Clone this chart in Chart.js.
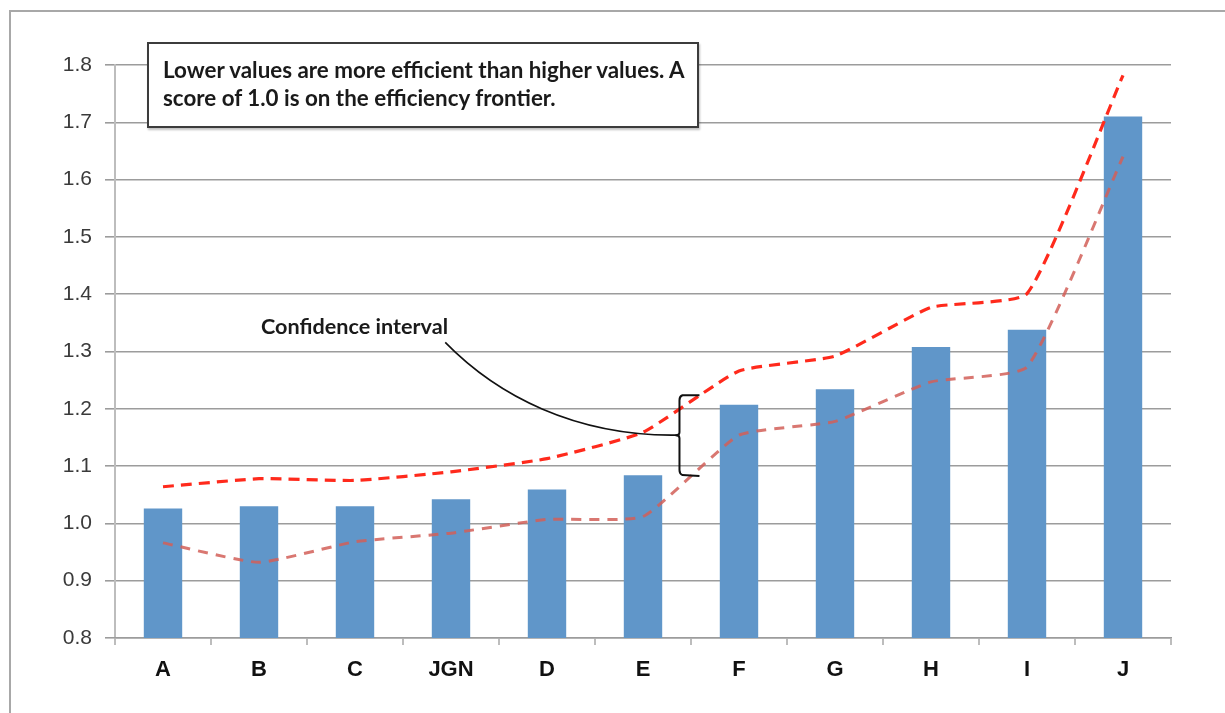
<!DOCTYPE html>
<html>
<head>
<meta charset="utf-8">
<script src="https://cdn.jsdelivr.net/npm/chart.js@4.4.1/dist/chart.umd.min.js"></script>
<style>
  html, body { margin: 0; padding: 0; background: #fff; overflow: hidden; }
  #wrap { position: relative; width: 1225px; height: 713px; }
  #frame { position: absolute; left: 9px; top: 10px; width: 1300px; height: 800px;
           border-top: 2px solid #a8a8a8; border-left: 2px solid #a8a8a8; box-sizing: border-box; }
  canvas { position: absolute; left: 0; top: 0; }
  #note { position: absolute; left: 147px; top: 42px; width: 552px; height: 86px; box-sizing: border-box;
          border: 2px solid #3c3c3c; background: #fff; box-shadow: 1px 2px 2px rgba(0,0,0,0.25);
          font-family: Lato, "Open Sans", sans-serif; font-weight: bold; color: #1a1a1a; }
  #note div { position: absolute; left: 14px; white-space: nowrap; }
  #ci { position: absolute; left: 261px; top: 313px; white-space: nowrap;
        font-family: Lato, "Open Sans", sans-serif; font-weight: bold; color: #1a1a1a; }
</style>
</head>
<body>
<div id="wrap">
  <div id="frame"></div>
  <canvas id="c" width="1225" height="713"></canvas>
  <div id="note">
    <div id="l1" style="top:12px">Lower values are more efficient than higher values. A</div>
    <div id="l2" style="top:40px">score of 1.0 is on the efficiency frontier.</div>
  </div>
  <div id="ci">Confidence interval</div>
</div>
<script>
const categories = ['A', 'B', 'C', 'JGN', 'D', 'E', 'F', 'G', 'H', 'I', 'J'];
const scores = [1.026, 1.030, 1.030, 1.042, 1.059, 1.084, 1.207, 1.234, 1.308, 1.338, 1.710];
const upperBound = [1.064, 1.078, 1.075, 1.090, 1.113, 1.159, 1.266, 1.292, 1.377, 1.401, 1.782];
const lowerBound = [0.966, 0.932, 0.968, 0.983, 1.007, 1.012, 1.154, 1.178, 1.247, 1.273, 1.640];
const yTicks = [0.8, 0.9, 1.0, 1.1, 1.2, 1.3, 1.4, 1.5, 1.6, 1.7, 1.8];

// fit annotation text widths
function fit(el, target, base) {
  el.style.fontSize = base + 'px';
  const w = el.getBoundingClientRect().width;
  el.style.fontSize = (base * target / w).toFixed(2) + 'px';
}
fit(document.getElementById('l1'), 522, 18);
document.getElementById('l2').style.fontSize = document.getElementById('l1').style.fontSize;
fit(document.getElementById('ci'), 187, 16);

const bracePlugin = {
  id: 'brace',
  afterDatasetsDraw(chart) {
    const ctx = chart.ctx, xs = chart.scales.x, ys = chart.scales.y;
    const x0 = xs.getPixelForValue(0), step = xs.getPixelForValue(1) - x0;
    const px = i => x0 + i * step;
    const py = v => ys.getPixelForValue(v);
    const bx = px(5.38);
    const top = py(1.222), mid = py(1.154), bot = py(1.086);
    ctx.save();
    ctx.strokeStyle = '#111';
    ctx.lineWidth = 1.6;
    ctx.beginPath();
    ctx.moveTo(px(2.94), py(1.316));
    ctx.bezierCurveTo(px(3.5), py(1.22), px(4.3), py(1.155), bx - 8, mid);
    ctx.lineTo(bx, mid);
    ctx.stroke();
    ctx.lineWidth = 2;
    ctx.beginPath();
    ctx.moveTo(bx + 20, top - 1);
    ctx.lineTo(bx + 3, top - 1);
    ctx.quadraticCurveTo(bx, top, bx, top + 4);
    ctx.lineTo(bx, mid - 3);
    ctx.quadraticCurveTo(bx, mid, bx - 4, mid);
    ctx.quadraticCurveTo(bx, mid, bx, mid + 3);
    ctx.lineTo(bx, bot - 4);
    ctx.quadraticCurveTo(bx, bot, bx + 3, bot + 1);
    ctx.lineTo(bx + 20, bot + 2);
    ctx.stroke();
    ctx.restore();
  }
};

new Chart(document.getElementById('c'), {
  type: 'bar',
  data: {
    labels: categories,
    datasets: [
      { type: 'line', label: 'Upper', data: upperBound, borderColor: '#ff2a1c', borderWidth: 3.2,
        borderDash: [11, 7], pointRadius: 0, tension: 0.15, fill: false, order: 0 },
      { type: 'line', label: 'Lower', data: lowerBound, borderColor: 'rgba(210,95,88,0.85)', borderWidth: 3,
        borderDash: [10, 8], pointRadius: 0, tension: 0.15, fill: false, order: 0 },
      { type: 'bar', label: 'Score', data: scores, backgroundColor: '#6096c9', borderWidth: 0,
        categoryPercentage: 1.0, barPercentage: 0.4, order: 1 }
    ]
  },
  options: {
    responsive: false,
    animation: false,
    events: [],
    layout: { padding: { top: 65, right: 54, left: 0, bottom: 0 } },
    plugins: { legend: { display: false }, tooltip: { enabled: false } },
    scales: {
      y: {
        min: 0.8, max: 1.8,
        afterFit: s => { s.width = 115; },
        afterBuildTicks: s => { s.ticks = yTicks.map(v => ({ value: v })); },
        ticks: { callback: v => Number(v).toFixed(1), color: '#3a3a3a', padding: 13,
                 font: { family: '"Liberation Sans", Arial, sans-serif', size: 21 } },
        grid: { color: '#9c9c9c', lineWidth: 1.6, tickLength: 10 },
        border: { display: true, color: '#bdbdbd', width: 2 }
      },
      x: {
        afterFit: s => { s.height = 75; },
        ticks: { color: '#111', padding: 12,
                 font: { family: '"Liberation Sans", Arial, sans-serif', size: 22, weight: 'bold' } },
        grid: { offset: true, drawOnChartArea: false, color: '#bdbdbd', lineWidth: 2, tickLength: 7 },
        border: { display: true, color: '#9c9c9c', width: 1.6 }
      }
    }
  },
  plugins: [bracePlugin]
});
</script>
</body>
</html>
